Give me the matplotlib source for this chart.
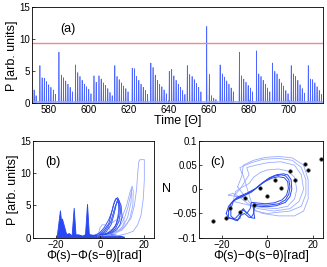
import numpy as np
import matplotlib
matplotlib.use("Agg")
import matplotlib.pyplot as plt

plt.rcParams['font.family'] = ['Liberation Sans', 'DejaVu Sans']

# --- (a) pulse train: peak times and peak heights ---
pulse_t = [572.9, 573.9,
           575.8, 576.9, 578.0, 579.1, 580.2, 581.3, 582.5, 583.6,
           585.3, 586.5, 587.6, 588.7, 589.8, 590.9, 592.0,
           593.6, 594.7, 595.8, 596.9, 598.0, 599.1, 600.2, 601.3,
           602.8, 603.9, 605.3, 606.4, 607.5, 608.6, 609.7, 610.8, 611.9,
           613.2, 614.3, 615.4, 616.5, 617.6, 618.7, 619.8,
           621.9, 623.0, 624.1, 625.2, 626.3, 627.4, 628.5, 629.6,
           631.2, 632.3, 633.4, 634.5, 635.6, 636.7, 637.8, 638.9,
           640.4, 641.6, 642.7, 643.8, 644.9, 646.0, 647.1, 648.2,
           649.4, 650.6, 651.8, 652.9, 654.0, 655.1, 656.2,
           659.1, 660.4, 661.5, 662.6, 663.7,
           665.8, 666.9, 668.0, 669.1, 670.2, 671.3, 672.4,
           675.4, 676.5, 677.6, 678.7, 679.8, 680.9, 682.0,
           684.0, 685.1, 686.2, 687.3, 688.4, 689.5, 690.6,
           692.0, 693.1, 694.2, 695.3, 696.4, 697.5, 698.6, 699.7,
           701.3, 702.4, 703.5, 704.6, 705.7, 706.8, 707.9,
           709.8, 710.9, 712.0, 713.1, 714.2, 715.3, 716.4]
pulse_p = [2.1, 1.2,
           5.9, 4.0, 3.9, 3.4, 2.9, 2.5, 2.1, 1.4,
           8.0, 4.4, 4.0, 3.5, 3.0, 2.5, 1.8,
           6.0, 4.8, 4.2, 3.6, 3.0, 2.6, 2.2, 1.5,
           4.3, 3.3, 4.3, 3.8, 3.2, 2.8, 2.3, 1.7, 1.2,
           5.9, 4.2, 3.7, 3.2, 2.7, 2.3, 1.8,
           5.5, 5.4, 4.2, 3.6, 3.0, 2.5, 2.0, 1.4,
           6.3, 5.6, 4.4, 3.6, 3.0, 2.6, 2.1, 1.5,
           5.0, 5.3, 4.3, 3.6, 3.0, 2.5, 2.0, 1.4,
           5.9, 4.5, 4.2, 3.7, 3.1, 2.5, 1.8,
           12.0, 4.5, 1.2, 0.8, 0.6,
           6.0, 4.6, 4.1, 3.5, 3.0, 2.4, 1.8,
           8.0, 4.3, 3.8, 3.3, 2.8, 2.4, 1.8,
           8.2, 4.6, 4.2, 3.6, 3.0, 2.4, 1.8,
           6.3, 5.0, 4.6, 3.8, 3.2, 2.7, 2.0, 1.5,
           5.9, 4.6, 4.2, 3.6, 2.9, 2.3, 1.6,
           5.9, 3.8, 3.7, 3.2, 2.6, 2.0, 1.4]
threshold = 9.5

# --- (b) P versus phase difference: spikes and loops ---
spike_x = [[-19.3, -17.8, -17.3, -16.9, -14.6],
           [-12.6, -11.6, -10.7],
           [-6.6, -5.6, -4.7]]
spike_y = [[0.0, 4.2, 2.6, 2.9, 0.0],
           [0.0, 4.6, 0.0],
           [0.0, 5.2, 0.0]]
base_x = [-19.5, -16, -14, -13, -10, -8, -6, -3, 0, 3, 6, 9, 11]
base_y = [0.3, 0.5, 0.8, 0.5, 0.6, 0.4, 0.7, 0.5, 0.9, 0.7, 0.6, 0.4, 0.2]
loops_b = [
    ([-2, 0, 2, 4, 5.5, 6.5, 7.5, 8.2, 8.5, 8, 7, 5, 3, 0, -2],
     [0.3, 0.8, 1.6, 2.8, 4.2, 5.5, 6.1, 5.8, 4.5, 3.0, 1.8, 1.0, 0.6, 0.4, 0.3]),
    ([0, 2, 4, 5, 6, 7, 8, 9, 9.3, 8.5, 7, 5, 2, 0],
     [0.5, 1.2, 2.2, 3.5, 5.0, 6.0, 6.2, 5.2, 4.0, 2.5, 1.4, 0.8, 0.5, 0.5]),
    ([1, 3, 5, 6, 7, 7.6, 8.3, 9.5, 10, 9, 7.5, 5, 3, 1],
     [0.4, 1.0, 2.0, 3.2, 4.6, 5.6, 6.0, 5.0, 3.2, 2.0, 1.2, 0.7, 0.5, 0.4]),
    ([0, 2, 3.5, 5, 6, 7, 8, 8.8, 8.6, 7.5, 6, 4, 2, 0],
     [0.4, 0.9, 1.6, 2.6, 3.8, 5.0, 5.6, 5.0, 3.6, 2.2, 1.3, 0.8, 0.5, 0.4]),
    ([2, 5, 8, 10, 12, 13.5, 14.5, 15, 14.8, 13.5, 12, 10, 7, 4, 2],
     [0.5, 1.2, 2.2, 3.2, 5.0, 7.0, 8.0, 7.2, 5.0, 3.0, 2.0, 1.2, 0.7, 0.5, 0.5]),
    ([3, 6, 9, 11, 12.5, 13.8, 14.3, 14, 12.5, 10.5, 8, 5, 3],
     [0.4, 1.0, 1.8, 3.0, 4.6, 6.5, 7.6, 5.5, 3.2, 1.8, 1.0, 0.6, 0.4]),
    ([0, 5, 10, 14, 15.5, 16.5, 17, 17.5, 18, 20, 20, 19.5, 18.5, 17, 15, 12, 8, 4, 0],
     [0.3, 0.6, 1.3, 3.0, 5.0, 7.5, 10.0, 11.8, 12.1, 12.1, 9.0, 6.0, 3.5, 2.0, 1.0, 0.6, 0.3, 0.3, 0.3]),
    ([-1, 0, 1, 2, 3, 4, 5, 6, 8],
     [0.2, 1.5, 2.0, 2.0, 1.8, 1.5, 1.0, 0.5, 0.3]),
    ([0, 2, 4, 6, 8, 10, 11, 10, 8, 5, 2],
     [0.6, 1.4, 2.0, 2.4, 3.0, 3.4, 2.5, 1.6, 1.0, 0.7, 0.6]),
]

# --- (c) N versus phase difference: loops and black points ---
loops_c_dark = [
    ([-17, -16, -14, -10, -6, -3, 0, 3, 6, 8, 9.5, 10, 9.5, 8, 5, 0, -4, -6, -6, -5.5, -8, -10, -12, -13, -15, -17, -17],
     [-0.045, -0.03, -0.02, -0.012, -0.002, 0.01, 0.02, 0.027, 0.03, 0.028, 0.02, 0.005, -0.01, -0.022, -0.03, -0.033,
      -0.032, -0.03, -0.045, -0.06, -0.058, -0.05, -0.055, -0.065, -0.062, -0.058, -0.045]),
    ([-16, -15, -13, -9, -5, -2, 1, 4, 7, 9, 10.5, 10.8, 10, 8, 4, 0, -4, -5.5, -6, -7, -9, -11, -12, -14, -16, -16],
     [-0.04, -0.026, -0.016, -0.008, 0.002, 0.014, 0.024, 0.03, 0.032, 0.03, 0.02, 0.0, -0.015, -0.027, -0.034, -0.036,
      -0.035, -0.033, -0.05, -0.058, -0.048, -0.042, -0.06, -0.064, -0.055, -0.04]),
    ([-18, -17, -15, -11, -7, -4, -1, 2, 5, 7.5, 9, 9.3, 8.5, 6.5, 3, -1, -5, -7, -7.5, -9, -10.5, -12, -14, -17, -18],
     [-0.05, -0.035, -0.024, -0.015, -0.006, 0.006, 0.016, 0.023, 0.026, 0.024, 0.016, 0.002, -0.012, -0.022, -0.028,
      -0.03, -0.028, -0.027, -0.04, -0.05, -0.04, -0.05, -0.06, -0.06, -0.05]),
]
loops_c_light = [
    ([-15, -14, -12, -8, -6, -3, 0, 5, 9, 12, 13, 12, 9, 4, -2, -6],
     [-0.025, -0.005, 0.002, 0.012, 0.025, 0.035, 0.04, 0.042, 0.038, 0.025, 0.0, -0.02, -0.035, -0.04, -0.038, -0.035]),
    ([-14, -12, -10, -8, -9, -5, 0, 6, 12, 15, 16, 14, 10, 3, -4, -7],
     [-0.01, 0.0, 0.015, 0.03, 0.045, 0.05, 0.055, 0.057, 0.05, 0.03, 0.0, -0.025, -0.04, -0.045, -0.04, -0.035]),
    ([-13, -11, -12, -7, -2, 5, 11, 15, 17, 17, 15, 10, 0, -5],
     [0.005, 0.03, 0.045, 0.055, 0.062, 0.064, 0.06, 0.045, 0.02, -0.01, -0.035, -0.045, -0.05, -0.045]),
    ([-11, -10.5, -6, -1, 5, 11, 16, 18, 18, 16, 12, 5, -2, -6],
     [0.035, 0.05, 0.06, 0.066, 0.068, 0.065, 0.05, 0.02, -0.02, -0.045, -0.055, -0.055, -0.05, -0.042]),
    ([-17, -15, -13, -11, -10],
     [-0.012, -0.008, -0.02, -0.012, -0.018]),
]
pts_x = [23.5, 16.6, 18.0, 9.8, 12.2, 3.2, 6.2, -3.2, 0.0, -9.9, -5.9, -16.2, -12.1, -18.1, -23.8]
pts_y = [0.063, 0.052, 0.040, 0.037, 0.020, 0.020, 0.003, 0.003, -0.0145, -0.017, -0.032, -0.038, -0.047,
         -0.059, -0.066]

dark = '#2a48f2'
spike_c = '#4d66ff'
light = '#9aabff'
fill_c = '#cbd2ff'

fig = plt.figure(figsize=(3.27, 2.67), dpi=100)
ax1 = fig.add_axes([0.0988, 0.613, 0.888, 0.3596])
ax2 = fig.add_axes([0.102, 0.11, 0.37, 0.362])
ax3 = fig.add_axes([0.6086, 0.11, 0.379, 0.362])

# panel (a)
t = np.array(pulse_t)
p = np.array(pulse_p)
for ti, pi in zip(t, p):
    ax1.fill([ti - 0.5, ti - 0.1, ti + 0.45], [0, pi * 0.85, 0], color=fill_c, lw=0)
xs = np.column_stack([t - 0.08, t, t + 0.08]).ravel()
ys = np.column_stack([np.zeros_like(p), p, np.zeros_like(p)]).ravel()
ax1.plot(xs, ys, color=spike_c, lw=0.5)
ax1.plot([572, 717], [0.2, 0.2], color=light, lw=1.2)
ax1.axhline(threshold, color='#f08a8a', lw=1.0)
ax1.set_xlim(572, 717)
ax1.set_ylim(0, 15)
ax1.set_xticks([580, 600, 620, 640, 660, 680, 700])
ax1.set_yticks([0, 5, 10, 15])
ax1.set_xlabel('Time [Θ]', fontsize=9, labelpad=0)
ax1.set_ylabel('P [arb. units]', fontsize=9, labelpad=1)
ax1.text(0.095, 0.77, '(a)', transform=ax1.transAxes, fontsize=9, va='center')

# panel (b)
for lx, ly in loops_b:
    ax2.plot(lx, ly, color=light, lw=0.6)
for lx, ly in loops_b[:4]:
    ax2.plot(lx, ly, color=dark, lw=0.5)
ax2.fill_between(base_x, 0, base_y, color=dark, lw=0)
for sx, sy in zip(spike_x, spike_y):
    ax2.fill(sx, sy, color=dark, lw=0.6)
ax2.set_xlim(-30, 24.5)
ax2.set_ylim(0, 15)
ax2.set_xticks([-20, 0, 20])
ax2.set_yticks([0, 5, 10, 15])
ax2.set_xlabel('Φ(s)−Φ(s−θ)[rad]', fontsize=9, labelpad=0)
ax2.set_ylabel('P [arb. units]', fontsize=9, labelpad=1)
ax2.text(0.097, 0.78, '(b)', transform=ax2.transAxes, fontsize=9, va='center')

# panel (c)
for lx, ly in loops_c_light:
    ax3.plot(lx + lx[:1], ly + ly[:1], color=light, lw=0.6)
for lx, ly in loops_c_dark:
    ax3.plot(lx, ly, color=dark, lw=0.7)
ax3.plot(pts_x, pts_y, 'o', color='black', ms=2.6, mec='#555555', mew=0.4)
ax3.set_xlim(-30, 24.5)
ax3.set_ylim(-0.1, 0.1)
ax3.set_xticks([-20, 0, 20])
ax3.set_yticks([-0.1, -0.05, 0, 0.05, 0.1])
ax3.set_yticklabels(['−0.1', '−0.05', '0', '0.05', '0.1'])
ax3.set_xlabel('Φ(s)−Φ(s−θ)[rad]', fontsize=9, labelpad=0)
ax3.set_ylabel('N', fontsize=9, rotation=0, labelpad=4, va='center')
ax3.text(0.089, 0.78, '(c)', transform=ax3.transAxes, fontsize=9, va='center')

for ax in (ax1, ax2, ax3):
    ax.tick_params(direction='in', labelsize=7, length=2.5, width=0.5, pad=1.5)
    for s in ax.spines.values():
        s.set_linewidth(0.6)

fig.savefig('out.png', dpi=100)
